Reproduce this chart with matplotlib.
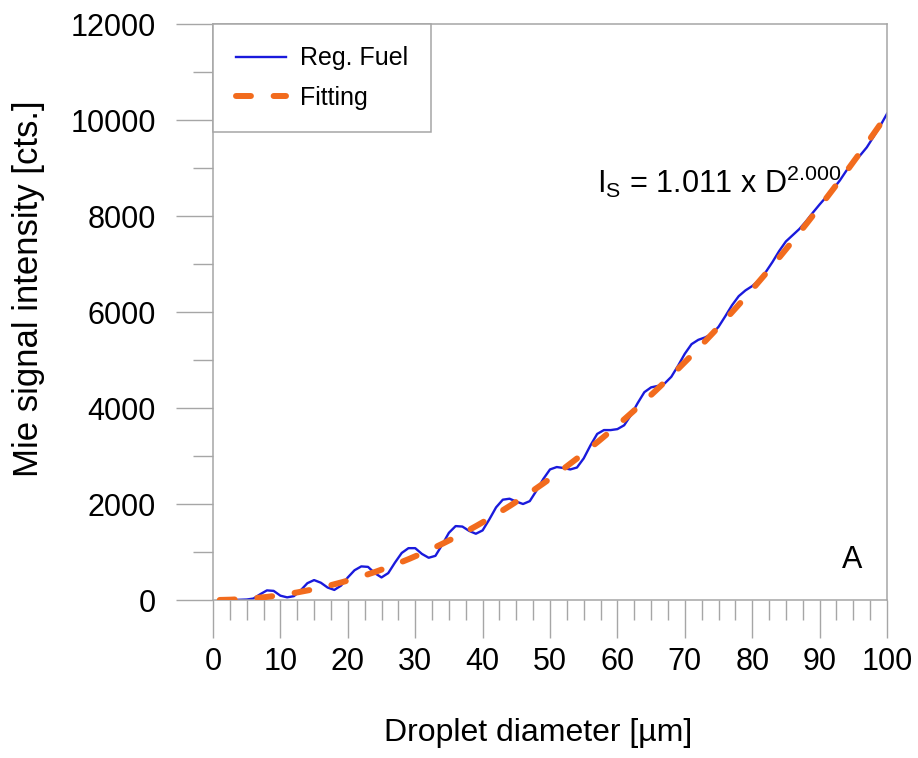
import matplotlib
matplotlib.use("Agg")
import matplotlib.pyplot as plt
import numpy as np
from matplotlib.ticker import MultipleLocator

plt.rcParams['font.family'] = ['Liberation Sans', 'DejaVu Sans']
plt.rcParams['mathtext.fontset'] = 'custom'
plt.rcParams['mathtext.rm'] = 'Liberation Sans'

# Measured Mie signal (Reg. Fuel)
diameter = [2, 3, 4, 5, 6, 7, 8, 9, 10, 11, 12, 13, 14, 15, 16, 17, 18, 19, 20,
            21, 22, 23, 24, 25, 26, 27, 28, 29, 30, 31, 32, 33, 34, 35, 36, 37, 38,
            39, 40, 41, 42, 43, 44, 45, 46, 47, 48, 49, 50, 51, 52, 53, 54, 55, 56,
            57, 58, 59, 60, 61, 62, 63, 64, 65, 66, 67, 68, 69, 70, 71, 72, 73, 74,
            75, 76, 77, 78, 79, 80, 81, 82, 83, 84, 85, 86, 87, 88, 89, 90, 91, 92,
            93, 94, 95, 96, 97, 98, 99, 100]
signal = [0, 0, 5, 10, 30, 120, 200, 190, 90, 55, 80, 200, 350, 415, 360, 260, 210,
          300, 470, 620, 700, 690, 560, 470, 560, 780, 980, 1080, 1080, 960, 880, 920,
          1150, 1400, 1540, 1530, 1440, 1380, 1450, 1680, 1930, 2090, 2110, 2050, 2000,
          2060, 2280, 2520, 2720, 2770, 2750, 2720, 2760, 2950, 3220, 3460, 3540, 3540,
          3560, 3640, 3850, 4100, 4330, 4430, 4460, 4510, 4650, 4880, 5130, 5330, 5420,
          5470, 5540, 5690, 5910, 6140, 6330, 6450, 6540, 6660, 6830, 7040, 7270, 7470,
          7600, 7730, 7890, 8070, 8240, 8400, 8560, 8740, 8950, 9120, 9260, 9430, 9650,
          9880, 10130]

# Power-law fit shown on the chart: I_S = a * D^b
fit_a = 1.011
fit_b = 2.000
fit_range = (1, 100)

xticks = [0, 10, 20, 30, 40, 50, 60, 70, 80, 90, 100]
yticks = [0, 2000, 4000, 6000, 8000, 10000, 12000]

grey = '#a6a6a6'
blue = '#1a1adc'
orange = '#f26b1d'

fig = plt.figure(figsize=(9.18, 7.58), dpi=100)
ax = fig.add_axes([213/918, 1-600/758, 674/918, 576/758])

ax.plot(diameter, signal, color=blue, lw=1.7, label='Reg. Fuel', zorder=2,
        solid_joinstyle='round')
d_fit = np.linspace(fit_range[0], fit_range[1], 300)
ax.plot(d_fit, fit_a * d_fit**fit_b, color=orange, lw=4.3, dashes=(2.5, 3.8),
        dash_capstyle='round', label='Fitting', zorder=3)

ax.set_xlim(0, 100)
ax.set_ylim(0, 12000)
ax.set_xticks(xticks)
ax.set_yticks(yticks)
ax.xaxis.set_minor_locator(MultipleLocator(2.5))
ax.yaxis.set_minor_locator(MultipleLocator(1000))
ax.tick_params(which='major', direction='out', length=27, width=1.0, color=grey,
               labelsize=22, labelcolor='black')
ax.tick_params(which='minor', direction='out', length=14.4, width=1.0, color=grey)
ax.tick_params(axis='x', which='major', pad=7)
ax.tick_params(axis='y', which='major', pad=14)
for s in ax.spines.values():
    s.set_color(grey)
    s.set_linewidth(1.1)

ax.set_xlabel('Droplet diameter [µm]', fontsize=23)
ax.xaxis.set_label_coords(0.483, -0.231)
ax.xaxis.label.set_va('center')
ax.set_ylabel('Mie signal intensity [cts.]', fontsize=25, va='center')
ax.yaxis.set_label_coords(-0.2737, 0.541)

ax.text(57.0, 8479, r'$\mathregular{I_S}$ = 1.011 x D$^{\mathregular{2.000}}$',
        fontsize=22, ha='left', va='baseline')
ax.text(94.8, 667, 'A', fontsize=22, ha='center', va='baseline')

leg = ax.legend(loc='upper left', bbox_to_anchor=(0, 1), borderaxespad=0,
                fontsize=18, fancybox=False, framealpha=1, edgecolor=grey,
                handlelength=2.0, borderpad=0.9, labelspacing=0.6, handletextpad=0.6)
leg.get_frame().set_linewidth(1.1)

fig.savefig('out.png', dpi=100)
